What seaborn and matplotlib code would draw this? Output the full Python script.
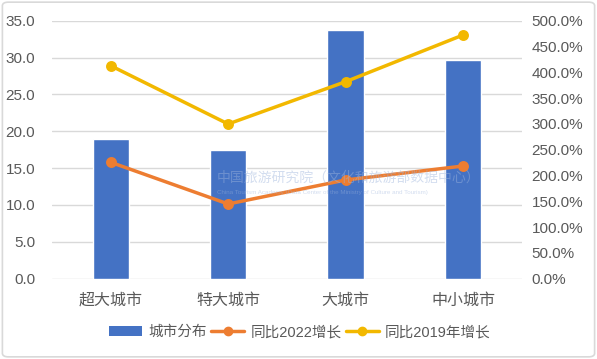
import matplotlib
matplotlib.use("Agg")
import matplotlib.pyplot as plt
import seaborn as sns
import pandas as pd
from matplotlib.lines import Line2D
from matplotlib.patches import Patch, FancyBboxPatch
from matplotlib.ticker import FuncFormatter, MultipleLocator

cities = ["超大城市", "特大城市", "大城市", "中小城市"]
city_share = [18.9, 17.4, 33.7, 29.7]
growth_2022 = [225.6, 144.8, 191.3, 218.4]
growth_2019 = [412.8, 299.8, 381.8, 472.3]

bar_color = "#4472C4"
orange = "#ED7D31"
yellow = "#F2B800"
text_gray = "#595959"

sns.set_style("white")
plt.rcParams["font.family"] = ["Liberation Sans", "Noto Sans CJK SC"]

df = pd.DataFrame({"city": cities, "share": city_share,
                   "g2022": growth_2022, "g2019": growth_2019})

fig = plt.figure(figsize=(5.97, 3.59), dpi=100)
ax = fig.add_axes([0.0871, 0.2237, 0.7869, 0.7186])

sns.barplot(data=df, x="city", y="share", color=bar_color, saturation=1,
            width=0.31, ax=ax, zorder=2)
ax.set_ylim(0, 35)
ax.yaxis.set_major_locator(MultipleLocator(5))
ax.yaxis.set_major_formatter(FuncFormatter(lambda v, p: f"{v:.1f}"))
ax.grid(axis="y", color="#D9D9D9", linewidth=1)
ax.set_axisbelow(True)
ax.set_xlabel("")
ax.set_ylabel("")
for s in ax.spines.values():
    s.set_visible(False)
ax.tick_params(axis="both", length=0, colors=text_gray, labelsize=11)
ax.tick_params(axis="x", pad=10, labelsize=11.5)
ax.tick_params(axis="y", pad=12)

ax2 = ax.twinx()
sns.pointplot(data=df, x="city", y="g2022", color=orange, ax=ax2,
              markersize=6, linewidth=2.5)
sns.pointplot(data=df, x="city", y="g2019", color=yellow, ax=ax2,
              markersize=6, linewidth=2.5)
ax2.set_ylim(0, 500)
ax2.yaxis.set_major_locator(MultipleLocator(50))
ax2.yaxis.set_major_formatter(FuncFormatter(lambda v, p: f"{v:.1f}%"))
ax2.set_ylabel("")
for s in ax2.spines.values():
    s.set_visible(False)
ax2.tick_params(axis="y", length=0, colors=text_gray, labelsize=11, pad=7)

# watermark
fig.text(0.363, 0.505, "中国旅游研究院（文化和旅游部数据中心）", fontsize=10,
         color="#9DB4DC", alpha=0.45, ha="left", va="center")
fig.text(0.363, 0.465, "China Tourism Academy (Data Center of the Ministry of Culture and Tourism)",
         fontsize=4.5, color="#9DB4DC", alpha=0.45, ha="left", va="center")

handles = [
    Patch(facecolor=bar_color, edgecolor="none", label="城市分布"),
    Line2D([], [], color=orange, marker="o", markersize=6, linewidth=2.5, label="同比2022增长"),
    Line2D([], [], color=yellow, marker="o", markersize=6, linewidth=2.5, label="同比2019年增长"),
]
leg = fig.legend(handles=handles, loc="center", bbox_to_anchor=(0.502, 0.075), ncol=3,
                 frameon=False, fontsize=10.5, handlelength=2.3, handletextpad=0.4,
                 columnspacing=0.3)
for t in leg.get_texts():
    t.set_color(text_gray)

border = FancyBboxPatch((0.004, 0.006), 0.992, 0.988, boxstyle="round,pad=0,rounding_size=0.01",
                        transform=fig.transFigure, facecolor="none", edgecolor="#D9D9D9",
                        linewidth=1.2)
fig.patches.append(border)

fig.savefig("out.png", dpi=100)
